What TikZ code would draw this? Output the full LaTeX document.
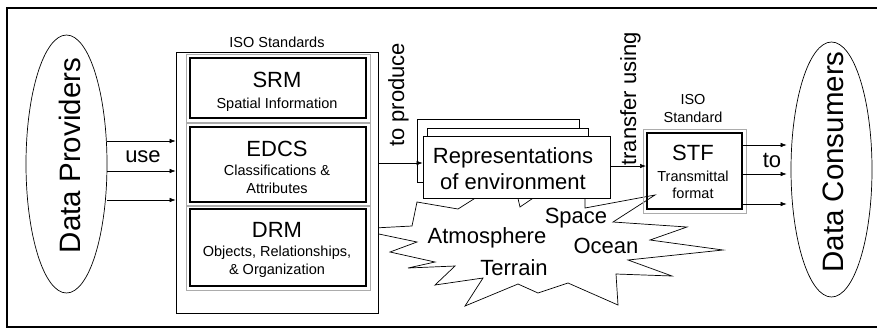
\documentclass[tikz,border=0pt]{standalone}
\usepackage{fontspec}
\setmainfont{Liberation Sans}
\usetikzlibrary{arrows.meta,shapes.geometric,calc}
\begin{document}
\begin{tikzpicture}[x=1pt,y=-1pt,
  small/.style={font=\fontsize{14.5}{16}\selectfont, anchor=base, inner sep=0pt},
  big/.style={font=\fontsize{22}{24}\selectfont, anchor=base, inner sep=0pt},
  huge/.style={font=\fontsize{29.5}{32}\selectfont, anchor=base, inner sep=0pt},
  arr/.style={-{Latex[length=6pt,width=4.5pt]}, line width=0.6pt},
  stdbox/.style={draw, line width=2pt, inner sep=0pt, fill=white},
  plainbox/.style={draw, line width=0.7pt, inner sep=0pt, fill=white},
  oval/.style={draw, ellipse, line width=0.7pt, inner sep=0pt},
  halo/.style={draw=gray!65, line width=1pt}
]
\useasboundingbox (0,0) rectangle (877,333);
\fill[white] (0,0) rectangle (877,333);

% outer frame
\draw[line width=1.2pt] (877,8) -- (7,8) -- (7,327) -- (877,327);

% ellipses
\node[oval, minimum width=81pt, minimum height=258pt] (prov) at (66.5,164) {};
\node[oval, minimum width=81pt, minimum height=255pt] (cons) at (831.5,169.5) {};
\node[huge, rotate=90] (provt) at (80,155.5) {Data Providers};
\node[huge, rotate=90] (const) at (843,162) {Data Consumers};

% starburst
\draw[fill=white, line width=0.7pt] (355,229) -- (412,226) -- (417,202) -- (458,209)
  -- (488,190) -- (516,190) -- (520,207) -- (545,190) -- (585,190) -- (585,208)
  -- (655,195) -- (613,222) -- (687,227) -- (650,240) -- (723,250) -- (628,260)
  -- (672,276) -- (616,274) -- (618,305) -- (568,283) -- (538,293) -- (518,284)
  -- (465,306) -- (483,278) -- (435,285) -- (455,266) -- (408,268) -- (435,262)
  -- (390,252) -- (417,242) -- cycle;
\node[big] (atm) at (487,243) {Atmosphere};
\node[big] (spc) at (576,223) {Space};
\node[big] (ocn) at (606,253) {Ocean};
\node[big] (ter) at (514,275) {Terrain};

% ISO standards box
\node[plainbox, minimum width=202pt, minimum height=261pt] (iso) at (277,182.5) {};
\node[small] (isot) at (277,47) {ISO Standards};
\node[stdbox, minimum width=176pt, minimum height=60pt] (srm) at (278,88) {};
\node[stdbox, minimum width=176pt, minimum height=75pt] (edcs) at (278,164.5) {};
\node[stdbox, minimum width=176pt, minimum height=77pt] (drm) at (278,247.5) {};
\foreach \b in {srm,edcs,drm}
  \draw[halo] ([shift={(-3pt,-3pt)}]\b.south west) rectangle ([shift={(3pt,3pt)}]\b.north east);
\node[big] (srmt) at (277,87) {SRM};
\node[small] (srms) at (277,108) {Spatial Information};
\node[big] (edcst) at (277,156) {EDCS};
\node[small] (edcs1) at (277,175) {Classifications \&};
\node[small] (edcs2) at (277,193) {Attributes};
\node[big] (drmt) at (277,237) {DRM};
\node[small] (drm1) at (277,256) {Objects, Relationships,};
\node[small] (drm2) at (277,274) {\& Organization};

% use arrows
\foreach \dy in {23,-7,-36}
  \draw[arr] ([yshift=\dy pt]prov.east) -- ([yshift=\dy pt]prov.east -| iso.west);
\node[big] (use) at (143,162) {use};

% representations
\draw[plainbox] (417,119) rectangle (579,182);
\draw[plainbox] (427,128) rectangle (588,190);
\node[plainbox, minimum width=187pt, minimum height=62pt] (rep) at (516.5,167) {};
\node[big] (rep1) at (513,163) {Representations};
\node[big] (rep2) at (513,189) {of environment};
\draw[arr] ([yshift=4pt]rep.west -| iso.east) -- ([yshift=4pt]rep.west);
\node[big, rotate=90] (prod) at (404,95) {to produce};

% STF
\node[draw, line width=2pt, inner sep=0pt, minimum width=95pt, minimum height=76pt] (stf) at (694.5,171) {};
\draw[halo] ([shift={(-3pt,-3pt)}]stf.south west) rectangle ([shift={(3pt,3pt)}]stf.north east);
\node[small] (isos1) at (693,104) {ISO};
\node[small] (isos2) at (693,122) {Standard};
\node[big] (stft) at (693,160) {STF};
\node[small] (stf1) at (693,181) {Transmittal};
\node[small] (stf2) at (693,198) {format};
\draw[arr] ([yshift=1pt]rep.east) -- ([yshift=1pt]rep.east -| stf.west);
\node[big, rotate=90] (trans) at (636,99) {transfer using};

% to consumers
\foreach \dy in {26,-3,-33}
  \draw[arr, shorten >=4pt] ([yshift=\dy pt]stf.east) -- ([yshift=\dy pt]stf.east -| cons.west);
\node[big] (to) at (772,167) {to};
\end{tikzpicture}
\end{document}
